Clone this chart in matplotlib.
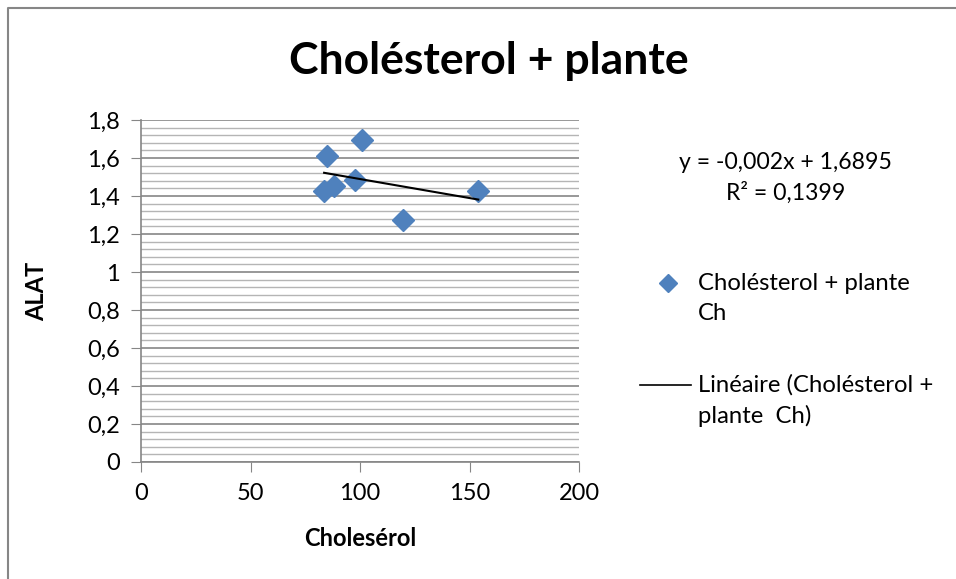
import numpy as np
import matplotlib.pyplot as plt
from matplotlib.ticker import MultipleLocator, FuncFormatter
from matplotlib.lines import Line2D

plt.rcParams['font.family'] = ['Lato', 'DejaVu Sans']

# Data
cholesterol = [84.8, 100.9, 83.6, 88.1, 97.7, 119.8, 154.0]
alat = [1.612, 1.695, 1.425, 1.453, 1.484, 1.274, 1.425]

x_ticks = [0, 50, 100, 150, 200]
y_ticks = [0, 0.2, 0.4, 0.6, 0.8, 1.0, 1.2, 1.4, 1.6, 1.8]

fig = plt.figure(figsize=(9.56, 5.79), dpi=100)
ax = fig.add_axes([0.1475, 0.2021, 0.4582, 0.5906])

# Gridlines
ax.yaxis.set_minor_locator(MultipleLocator(0.04))
ax.grid(which='minor', axis='y', color='#b5b5b5', linewidth=1.0)
ax.grid(which='major', axis='y', color='#868686', linewidth=1.2)
ax.set_axisbelow(True)

# Scatter points
ax.plot(cholesterol, alat, linestyle='none', marker='D', markersize=11.5,
        color='#4F81BD', zorder=3)

# Linear trendline
slope, intercept = np.polyfit(cholesterol, alat, 1)
xs = np.array([min(cholesterol), max(cholesterol)])
ax.plot(xs, slope * xs + intercept, color='black', linewidth=1.5, zorder=4)

ax.set_xlim(0, 200)
ax.set_ylim(0, 1.8)
ax.set_xticks(x_ticks)
ax.set_yticks(y_ticks)
fmt = FuncFormatter(lambda v, p: ('%g' % v).replace('.', ','))
ax.xaxis.set_major_formatter(fmt)
ax.yaxis.set_major_formatter(fmt)
ax.tick_params(axis='both', which='major', labelsize=17, length=7,
               color='#868686', direction='out', pad=8)
ax.tick_params(axis='y', which='minor', length=0)

for s in ['top', 'right']:
    ax.spines[s].set_visible(False)
for s in ['left', 'bottom']:
    ax.spines[s].set_color('#868686')
    ax.spines[s].set_linewidth(1.2)

ax.set_xlabel('Cholesérol', fontsize=17, fontweight='bold')
ax.set_ylabel('ALAT', fontsize=17, fontweight='bold')
ax.xaxis.set_label_coords(0.5, -0.19)
ax.yaxis.set_label_coords(-0.212, 0.5)

fig.text(0.511, 0.895, 'Cholésterol + plante', ha='center', va='center',
         fontsize=32, fontweight='bold')

# Trendline equation
fig.text(0.822, 0.72, 'y = -0,002x + 1,6895', ha='center', va='center', fontsize=16.6)
fig.text(0.822, 0.667, 'R² = 0,1399', ha='center', va='center', fontsize=16.6)

# Legend
fig.add_artist(Line2D([0.699], [0.511], marker='D', markersize=9, color='#4F81BD',
                      linestyle='none', transform=fig.transFigure))
fig.text(0.730, 0.511, 'Cholésterol + plante', ha='left', va='center', fontsize=17.2)
fig.text(0.730, 0.458, 'Ch', ha='left', va='center', fontsize=17.2)
fig.add_artist(Line2D([0.669, 0.723], [0.335, 0.335], color='black', linewidth=1.2,
                      transform=fig.transFigure))
fig.text(0.730, 0.335, 'Linéaire (Cholésterol +', ha='left', va='center', fontsize=17.2)
fig.text(0.730, 0.282, 'plante  Ch)', ha='left', va='center', fontsize=17.2)

# Chart border (left and top visible)
fig.add_artist(Line2D([0.0084, 0.0084, 1.0], [0.0, 0.986, 0.986], color='#868686',
                      linewidth=1.5, transform=fig.transFigure))

fig.savefig('out.png', dpi=100)
